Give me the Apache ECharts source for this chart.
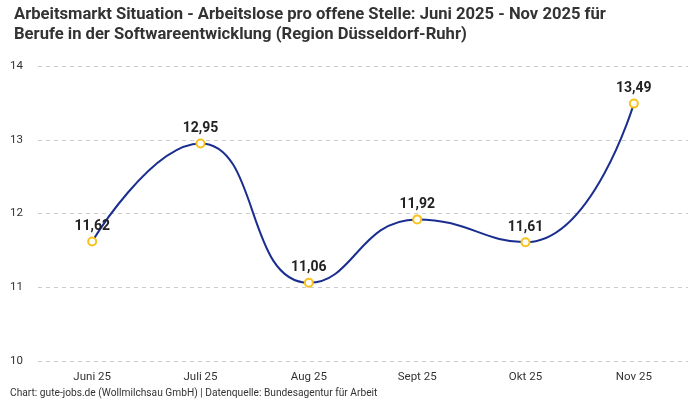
<!DOCTYPE html>
<html><head><meta charset="utf-8">
<script src="https://cdn.jsdelivr.net/npm/echarts@6/dist/echarts.min.js"></script>
<style>html,body{margin:0;padding:0;background:#fff}#c{width:700px;height:400px}</style>
</head><body><div id="c"></div>
<script>
const categories = ['Juni 25','Juli 25','Aug 25','Sept 25','Okt 25','Nov 25'];
const values = [11.62, 12.95, 11.06, 11.92, 11.61, 13.49];
const yTicks = [10, 11, 12, 13, 14];

const FONT = 'Roboto, "Noto Sans", sans-serif';
const chart = echarts.init(document.getElementById('c'));
chart.setOption({
  backgroundColor: '#fff',
  animation: false,
  textStyle: { fontFamily: FONT },
  title: {
    text: 'Arbeitsmarkt Situation - Arbeitslose pro offene Stelle: Juni 2025 - Nov 2025 für\nBerufe in der Softwareentwicklung (Region Düsseldorf-Ruhr)',
    left: 9, top: 0,
    textStyle: { fontSize: 16.6, fontWeight: 'bold', color: '#333', lineHeight: 20, fontFamily: FONT }
  },
  graphic: [{
    type: 'text', left: 10, top: 388,
    style: { text: 'Chart: gute-jobs.de (Wollmilchsau GmbH) | Datenquelle: Bundesagentur für Arbeit', fontSize: 10.2, fill: '#333', fontFamily: FONT }
  }],
  grid: { left: 38, right: 12, top: 66, bottom: 39, containLabel: false },
  xAxis: {
    type: 'category', data: categories, boundaryGap: true,
    axisLine: { show: false }, axisTick: { show: false },
    axisLabel: { color: '#333', fontSize: 11.5, margin: 10, fontFamily: FONT }
  },
  yAxis: {
    type: 'value', min: yTicks[0], max: yTicks[yTicks.length - 1], interval: 1,
    axisLine: { show: false }, axisTick: { show: false },
    axisLabel: { color: '#333', fontSize: 11.5, align: 'left', margin: 28, fontFamily: FONT },
    splitLine: { lineStyle: { color: '#ccc', type: [4, 4] } }
  },
  series: [{
    type: 'line', data: values, smooth: 0.5,
    lineStyle: { color: '#1a2e8f', width: 2 },
    itemStyle: { color: '#fff', borderColor: '#f7c21b', borderWidth: 2 },
    symbol: 'circle', symbolSize: 8,
    label: {
      show: true, position: 'top', distance: 3, color: '#222', fontSize: 14, fontWeight: 'bold', fontFamily: FONT,
      formatter: p => p.value.toFixed(2).replace('.', ',')
    }
  }]
});
</script></body></html>
